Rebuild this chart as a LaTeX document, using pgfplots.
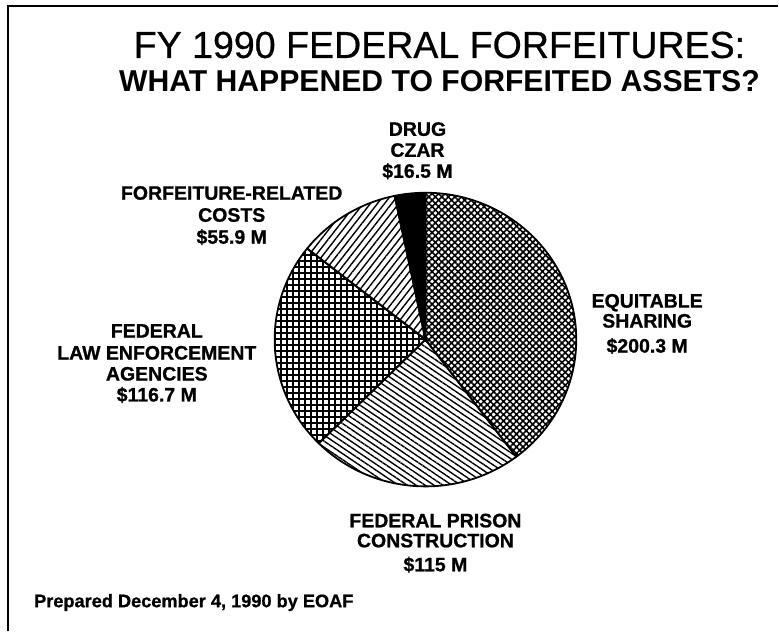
\documentclass[border=0pt]{standalone}
\usepackage{pgfplots}
\pgfplotsset{compat=1.18}
\usepackage{pgfplotstable}
\usetikzlibrary{patterns.meta}
\usepackage{fontspec}
\setmainfont{Liberation Sans}
\newfontfamily\labfont[FakeBold=0.9]{Liberation Sans Bold}
\newfontfamily\titlefont[FakeBold=0.6]{Liberation Sans}

\pgfplotstableread{
label value
Equitable 200.3
Prison 115
LawEnf 116.7
Costs 55.9
Drug 16.5
}\piedata

\begin{document}
\begin{tikzpicture}
\pgfplotstablegetelem{0}{value}\of\piedata \let\vA\pgfplotsretval
\pgfplotstablegetelem{1}{value}\of\piedata \let\vB\pgfplotsretval
\pgfplotstablegetelem{2}{value}\of\piedata \let\vC\pgfplotsretval
\pgfplotstablegetelem{3}{value}\of\piedata \let\vD\pgfplotsretval
\pgfplotstablegetelem{4}{value}\of\piedata \let\vE\pgfplotsretval
\pgfmathsetmacro\total{\vA+\vB+\vC+\vD+\vE}
\pgfmathsetmacro\aA{90}
\pgfmathsetmacro\aB{\aA-360*(\vA/\total)}
\pgfmathsetmacro\aC{\aB-360*(\vB/\total)}
\pgfmathsetmacro\aD{\aC-360*(\vC/\total)}
\pgfmathsetmacro\aE{\aD-360*(\vD/\total)}
\pgfmathsetmacro\aF{\aE-360*(\vE/\total)}
\tikzset{slice/.style args={#1/#2}{insert path={(axis cs:426,340) -- ++(#1:151bp and 147bp) arc[start angle=#1, end angle=#2, x radius=151bp, y radius=147bp] -- cycle}}}
\begin{axis}[scale only axis, width=779bp, height=632bp,
  xmin=0, xmax=779, ymin=0, ymax=632, y dir=reverse,
  hide axis, clip=false]
\path (axis cs:0,0) rectangle (axis cs:779,632);
% frame
\draw[line width=2bp] (axis cs:8,632) -- (axis cs:8,6) -- (axis cs:779,6);
% slices
\fill[pattern={Hatch[angle=45,distance=4.6bp,line width=1.6bp]}] [slice=\aA/\aB];
\fill[pattern={Lines[angle=-34,distance=5bp,line width=1.4bp]}] [slice=\aB/\aC];
\fill[pattern={Hatch[angle=0,distance=6bp,line width=1.7bp]}] [slice=\aC/\aD];
\fill[pattern={Lines[angle=52,distance=5.6bp,line width=1.4bp]}] [slice=\aD/\aE];
\fill[black] [slice=\aE/\aF];
% outlines
\draw[line width=1.8bp, line join=round] [slice=\aA/\aB];
\draw[line width=1.8bp, line join=round] [slice=\aB/\aC];
\draw[line width=1.8bp, line join=round] [slice=\aC/\aD];
\draw[line width=1.8bp, line join=round] [slice=\aD/\aE];
\draw[line width=1.8bp, line join=round] [slice=\aE/\aF];
% title
\node[anchor=base, inner sep=0pt, font=\fontsize{37.6bp}{40bp}\titlefont] at (axis cs:440,58) {FY 1990 FEDERAL FORFEITURES:};
\node[anchor=base, inner sep=0pt, font=\fontsize{30.2bp}{32bp}\selectfont\bfseries] at (axis cs:440,92) {WHAT HAPPENED TO FORFEITED ASSETS?};
% labels
\tikzset{lab/.style={anchor=base, inner sep=0pt, font=\fontsize{19.5bp}{22bp}\labfont}}
\node[lab] at (axis cs:418,136) {DRUG};
\node[lab] at (axis cs:418,157) {CZAR};
\node[lab] at (axis cs:418,178) {\$16.5 M};
\node[lab] at (axis cs:232,200) {FORFEITURE-RELATED};
\node[lab] at (axis cs:232,222) {COSTS};
\node[lab] at (axis cs:232,244) {\$55.9 M};
\node[lab] at (axis cs:648,308) {EQUITABLE};
\node[lab] at (axis cs:648,328) {SHARING};
\node[lab] at (axis cs:648,353) {\$200.3 M};
\node[lab] at (axis cs:157,338) {FEDERAL};
\node[lab] at (axis cs:157,360) {LAW ENFORCEMENT};
\node[lab] at (axis cs:157,381) {AGENCIES};
\node[lab] at (axis cs:157,402) {\$116.7 M};
\node[lab] at (axis cs:436,528) {FEDERAL PRISON};
\node[lab] at (axis cs:436,548) {CONSTRUCTION};
\node[lab] at (axis cs:436,572) {\$115 M};
\node[anchor=base west, inner sep=0pt, font=\fontsize{18.2bp}{20bp}\labfont] at (axis cs:34,608) {Prepared December 4, 1990 by EOAF};
\end{axis}
\end{tikzpicture}
\end{document}
